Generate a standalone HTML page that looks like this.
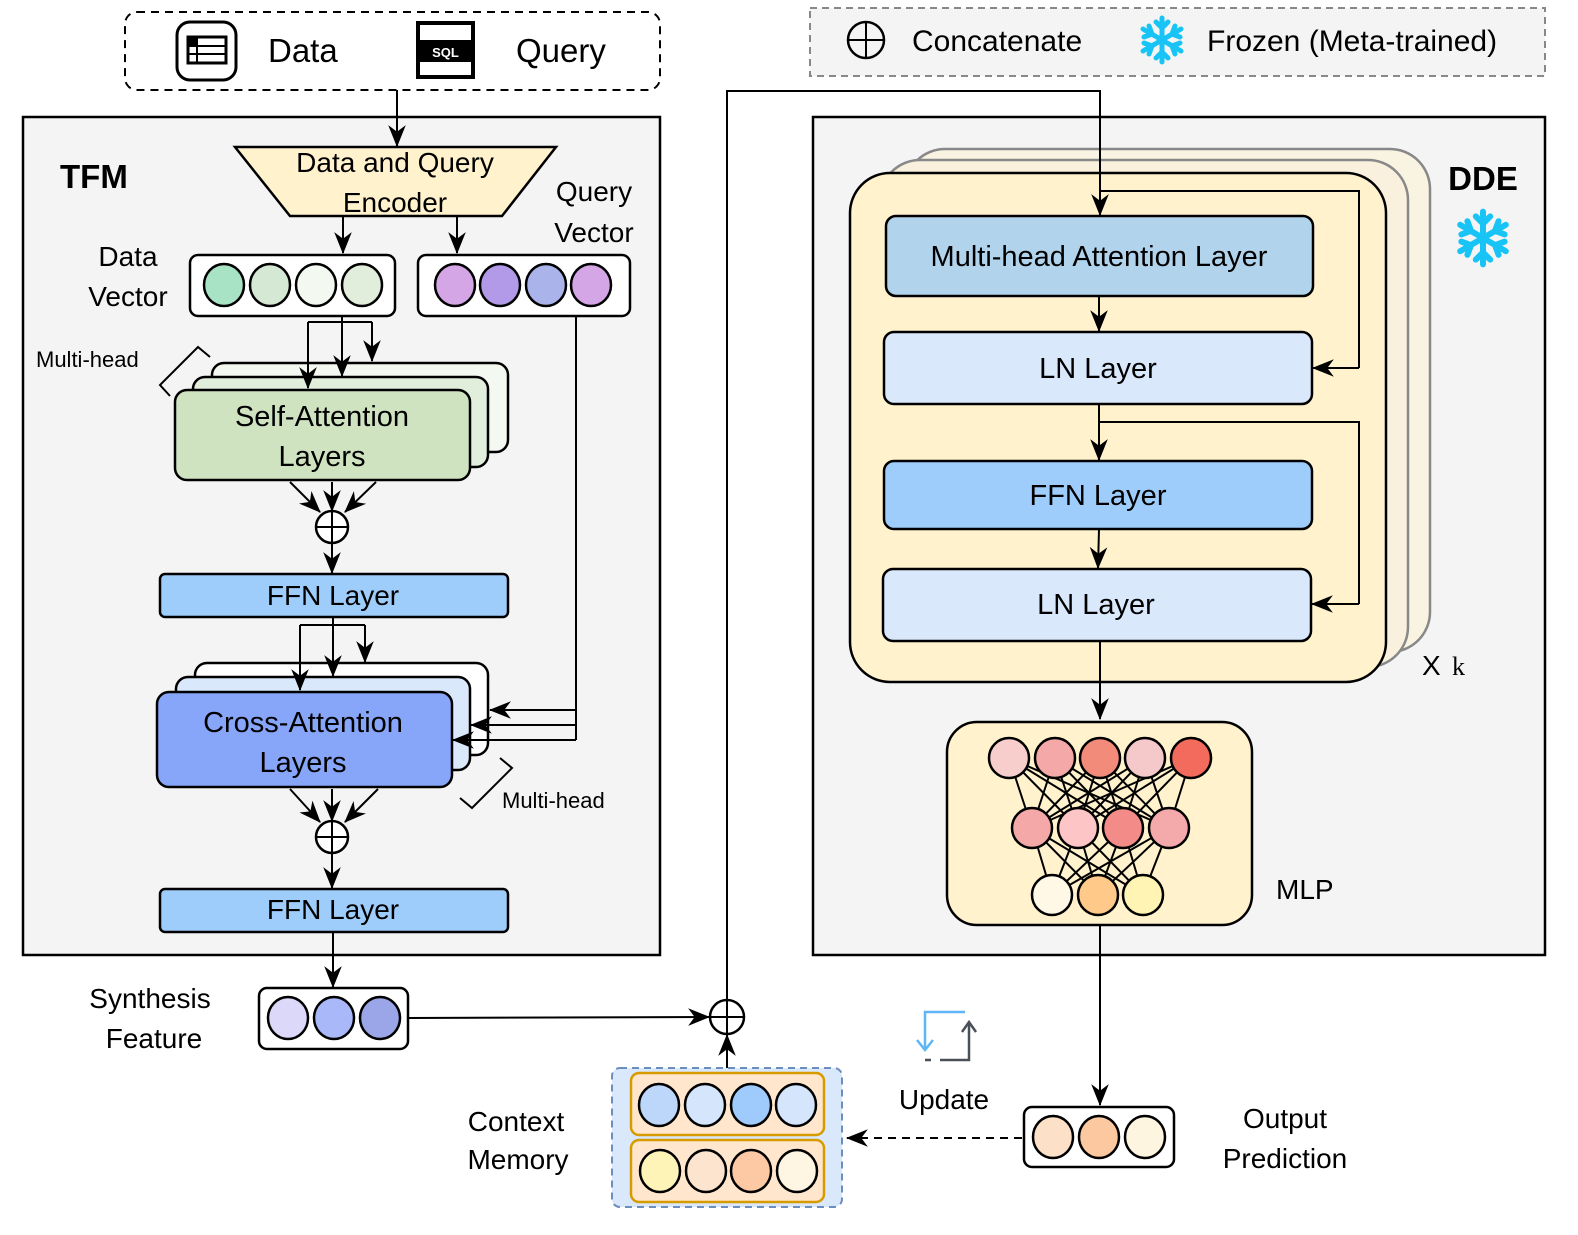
<!DOCTYPE html>
<html><head><meta charset="utf-8"><style>
html,body{margin:0;padding:0;background:#fff}
svg{display:block}
text{font-family:"Liberation Sans",sans-serif;fill:#000}
</style></head><body>
<svg width="1578" height="1235" viewBox="0 0 1578 1235" xmlns="http://www.w3.org/2000/svg">
<defs>
<marker id="b" viewBox="0 0 20 20" refX="19" refY="10" markerWidth="22" markerHeight="22" orient="auto" markerUnits="userSpaceOnUse"><path d="M0,2 L20,10 L0,18 L6,10 z" fill="#000"/></marker>
<g id="snow" stroke="#18c4f5" stroke-width="5" stroke-linecap="round" fill="none">
<path d="M0,-22V22M-19,-11L19,11M-19,11L19,-11"/>
<path d="M-6,-18L0,-12L6,-18M-6,18L0,12L6,18M-18,-3L-10,-6L-13,-14M18,3L10,6L13,14M-18,3L-10,6L-13,14M18,-3L10,-6L13,-14"/>
</g>
</defs>

<!-- top input box -->
<rect x="125" y="12" width="535" height="78" rx="12" fill="#fff" stroke="#000" stroke-width="2" stroke-dasharray="8,6"/>
<rect x="177" y="22" width="59" height="58" rx="13" fill="#fff" stroke="#000" stroke-width="3"/>
<rect x="188" y="37" width="38" height="26" fill="#fff" stroke="#000" stroke-width="3"/>
<rect x="188" y="37" width="9" height="8" fill="#000"/>
<path d="M188,46H226M188,54H226M197,37V63" stroke="#000" stroke-width="2"/>
<text x="268" y="62" font-size="33">Data</text>
<rect x="418" y="23" width="55" height="54" fill="#fff" stroke="#000" stroke-width="4"/>
<rect x="418" y="40" width="55" height="22" fill="#000"/>
<text x="445.5" y="57" font-size="13" text-anchor="middle" style="fill:#fff" font-weight="bold">SQL</text>
<text x="516" y="62" font-size="33">Query</text>

<!-- legend -->
<rect x="810" y="8" width="735" height="68" fill="#f4f4f4" stroke="#888" stroke-width="2" stroke-dasharray="7,5"/>
<circle cx="866" cy="40" r="18" fill="none" stroke="#000" stroke-width="2.5"/>
<path d="M848,40H884M866,22V58" stroke="#000" stroke-width="2"/>
<text x="912" y="51" font-size="30">Concatenate</text>
<use href="#snow" x="1162" y="40"/>
<text x="1207" y="51" font-size="30">Frozen (Meta-trained)</text>

<!-- TFM -->
<rect x="23" y="117" width="637" height="838" fill="#f4f4f4" stroke="#000" stroke-width="2.5"/>
<text x="60" y="188" font-size="33" font-weight="bold">TFM</text>
<line x1="397" y1="90" x2="397" y2="146" stroke="#000" stroke-width="2" marker-end="url(#b)"/>
<path d="M235,147H556L502,216H290Z" fill="#fff2cc" stroke="#000" stroke-width="2.5"/>
<text x="395" y="172" font-size="28" text-anchor="middle">Data and Query</text>
<text x="395" y="212" font-size="28" text-anchor="middle">Encoder</text>
<text x="594" y="201" font-size="28" text-anchor="middle">Query</text>
<text x="594" y="242" font-size="28" text-anchor="middle">Vector</text>
<text x="128" y="266" font-size="28" text-anchor="middle">Data</text>
<text x="128" y="306" font-size="28" text-anchor="middle">Vector</text>
<line x1="343" y1="216" x2="343" y2="253" stroke="#000" stroke-width="2" marker-end="url(#b)"/>
<line x1="457" y1="216" x2="457" y2="253" stroke="#000" stroke-width="2" marker-end="url(#b)"/>
<rect x="190" y="255" width="205" height="61" rx="8" fill="#fff" stroke="#000" stroke-width="2.5"/>
<g stroke="#000" stroke-width="2.5">
<ellipse cx="224" cy="285" rx="20" ry="21" fill="#a8e3c6"/>
<ellipse cx="270" cy="285" rx="20" ry="21" fill="#d5e8d4"/>
<ellipse cx="316" cy="285" rx="20" ry="21" fill="#f3f8f0"/>
<ellipse cx="362" cy="285" rx="20" ry="21" fill="#e1eedb"/>
</g>
<rect x="418" y="255" width="212" height="61" rx="8" fill="#fff" stroke="#000" stroke-width="2.5"/>
<g stroke="#000" stroke-width="2.5">
<ellipse cx="455" cy="285" rx="20" ry="21" fill="#d5a6e6"/>
<ellipse cx="500" cy="285" rx="20" ry="21" fill="#b39ae8"/>
<ellipse cx="546" cy="285" rx="20" ry="21" fill="#aab4ea"/>
<ellipse cx="591" cy="285" rx="20" ry="21" fill="#d5a6e6"/>
</g>

<!-- Self attention -->
<text x="36" y="367" font-size="22">Multi-head</text>
<path d="M210,357L198,347L160,385L170,396" fill="none" stroke="#000" stroke-width="2"/>
<rect x="212" y="363" width="296" height="89" rx="12" fill="#f3f8f0" stroke="#000" stroke-width="2.5"/>
<rect x="193" y="377" width="295" height="90" rx="12" fill="#e1eedb" stroke="#000" stroke-width="2.5"/>
<rect x="175" y="390" width="295" height="90" rx="12" fill="#cfe3c1" stroke="#000" stroke-width="2.5"/>
<text x="322" y="426" font-size="29" text-anchor="middle">Self-Attention</text>
<text x="322" y="466" font-size="29" text-anchor="middle">Layers</text>
<path d="M342,316V322M308,322H372" stroke="#000" stroke-width="2" fill="none"/>
<line x1="308" y1="322" x2="308" y2="388" stroke="#000" stroke-width="2" marker-end="url(#b)"/>
<line x1="342" y1="316" x2="342" y2="376" stroke="#000" stroke-width="2" marker-end="url(#b)"/>
<line x1="372" y1="322" x2="372" y2="361" stroke="#000" stroke-width="2" marker-end="url(#b)"/>
<line x1="290" y1="482" x2="320" y2="512" stroke="#000" stroke-width="2" marker-end="url(#b)"/>
<line x1="332" y1="482" x2="332" y2="511" stroke="#000" stroke-width="2" marker-end="url(#b)"/>
<line x1="376" y1="482" x2="345" y2="512" stroke="#000" stroke-width="2" marker-end="url(#b)"/>
<circle cx="332" cy="527" r="16" fill="#fff" stroke="#000" stroke-width="2.5"/>
<path d="M316,527H348M332,511V543" stroke="#000" stroke-width="2"/>
<line x1="332" y1="543" x2="332" y2="573" stroke="#000" stroke-width="2" marker-end="url(#b)"/>
<rect x="160" y="574" width="348" height="43" rx="5" fill="#9fcdfb" stroke="#000" stroke-width="2.5"/>
<text x="333" y="605" font-size="28" text-anchor="middle">FFN Layer</text>

<!-- Cross attention -->
<path d="M333,617V625M300,625H365" stroke="#000" stroke-width="2" fill="none"/>
<rect x="195" y="663" width="293" height="92" rx="12" fill="#fff" stroke="#000" stroke-width="2.5"/>
<rect x="176" y="677" width="294" height="93" rx="12" fill="#dae8fc" stroke="#000" stroke-width="2.5"/>
<rect x="157" y="692" width="295" height="95" rx="12" fill="#87a6f9" stroke="#000" stroke-width="2.5"/>
<text x="303" y="732" font-size="29" text-anchor="middle">Cross-Attention</text>
<text x="303" y="772" font-size="29" text-anchor="middle">Layers</text>
<line x1="300" y1="625" x2="300" y2="690" stroke="#000" stroke-width="2" marker-end="url(#b)"/>
<line x1="333" y1="617" x2="333" y2="676" stroke="#000" stroke-width="2" marker-end="url(#b)"/>
<line x1="365" y1="625" x2="365" y2="662" stroke="#000" stroke-width="2" marker-end="url(#b)"/>
<path d="M576,316V740" stroke="#000" stroke-width="2" fill="none"/>
<line x1="576" y1="710" x2="490" y2="710" stroke="#000" stroke-width="2" marker-end="url(#b)"/>
<line x1="576" y1="725" x2="471" y2="725" stroke="#000" stroke-width="2" marker-end="url(#b)"/>
<line x1="576" y1="740" x2="453" y2="740" stroke="#000" stroke-width="2" marker-end="url(#b)"/>
<path d="M500,758L512,768L472,808L460,798" fill="none" stroke="#000" stroke-width="2"/>
<text x="502" y="808" font-size="22">Multi-head</text>
<line x1="290" y1="789" x2="320" y2="822" stroke="#000" stroke-width="2" marker-end="url(#b)"/>
<line x1="332" y1="789" x2="332" y2="821" stroke="#000" stroke-width="2" marker-end="url(#b)"/>
<line x1="378" y1="789" x2="345" y2="822" stroke="#000" stroke-width="2" marker-end="url(#b)"/>
<circle cx="332" cy="837" r="16" fill="#fff" stroke="#000" stroke-width="2.5"/>
<path d="M316,837H348M332,821V853" stroke="#000" stroke-width="2"/>
<line x1="332" y1="853" x2="332" y2="888" stroke="#000" stroke-width="2" marker-end="url(#b)"/>
<rect x="160" y="889" width="348" height="43" rx="5" fill="#9fcdfb" stroke="#000" stroke-width="2.5"/>
<text x="333" y="919" font-size="28" text-anchor="middle">FFN Layer</text>
<line x1="333" y1="932" x2="333" y2="987" stroke="#000" stroke-width="2" marker-end="url(#b)"/>

<!-- Synthesis feature -->
<text x="150" y="1008" font-size="28" text-anchor="middle">Synthesis</text>
<text x="154" y="1048" font-size="28" text-anchor="middle">Feature</text>
<rect x="259" y="988" width="149" height="61" rx="8" fill="#fff" stroke="#000" stroke-width="2.5"/>
<g stroke="#000" stroke-width="2.5">
<ellipse cx="288" cy="1018" rx="20" ry="21" fill="#dcd8fa"/>
<ellipse cx="334" cy="1018" rx="20" ry="21" fill="#a8b8f8"/>
<ellipse cx="380" cy="1018" rx="20" ry="21" fill="#9aa6e8"/>
</g>
<line x1="408" y1="1018" x2="709" y2="1017" stroke="#000" stroke-width="2" marker-end="url(#b)"/>
<circle cx="727" cy="1017" r="17" fill="#fff" stroke="#000" stroke-width="2.5"/>
<path d="M710,1017H744M727,1000V1034" stroke="#000" stroke-width="2"/>

<!-- context memory -->
<line x1="727" y1="1068" x2="727" y2="1035" stroke="#000" stroke-width="2" marker-end="url(#b)"/>
<rect x="612" y="1068" width="230" height="139" rx="8" fill="#dae8fc" stroke="#6c8ebf" stroke-width="2" stroke-dasharray="7,5"/>
<rect x="631" y="1073" width="193" height="62" rx="8" fill="#ffe6cc" stroke="#d79b00" stroke-width="2.5"/>
<rect x="631" y="1140" width="193" height="62" rx="8" fill="#ffe6cc" stroke="#d79b00" stroke-width="2.5"/>
<g stroke="#000" stroke-width="2.5">
<ellipse cx="659" cy="1105" rx="20" ry="21" fill="#bdd7fb"/>
<ellipse cx="705" cy="1105" rx="20" ry="21" fill="#d4e5fc"/>
<ellipse cx="751" cy="1105" rx="20" ry="21" fill="#9ecbfb"/>
<ellipse cx="796" cy="1105" rx="20" ry="21" fill="#d4e5fc"/>
<ellipse cx="660" cy="1171" rx="20" ry="21" fill="#fff4b8"/>
<ellipse cx="706" cy="1171" rx="20" ry="21" fill="#fde4cf"/>
<ellipse cx="751" cy="1171" rx="20" ry="21" fill="#fcc9a4"/>
<ellipse cx="797" cy="1171" rx="20" ry="21" fill="#fef5e2"/>
</g>
<text x="516" y="1131" font-size="28" text-anchor="middle">Context</text>
<text x="518" y="1169" font-size="28" text-anchor="middle">Memory</text>

<!-- update -->
<path d="M965,1012H925V1048" stroke="#5fb6f7" stroke-width="2.5" fill="none"/>
<path d="M917,1040L925,1050L933,1040" stroke="#5fb6f7" stroke-width="2.5" fill="none"/>
<path d="M925,1060H931M940,1060H969V1024" stroke="#4a5058" stroke-width="2.5" fill="none"/>
<path d="M962,1032L969,1022L976,1032" stroke="#4a5058" stroke-width="2.5" fill="none"/>
<text x="944" y="1109" font-size="28" text-anchor="middle">Update</text>

<!-- DDE -->
<rect x="813" y="117" width="732" height="838" fill="#f4f4f4" stroke="#000" stroke-width="2.5"/>
<text x="1483" y="190" font-size="33" font-weight="bold" text-anchor="middle">DDE</text>
<g transform="translate(1483,238) scale(1.2)"><use href="#snow"/></g>
<rect x="905" y="149" width="525" height="503" rx="40" fill="#f9f3e2" stroke="#888" stroke-width="2.5"/>
<rect x="880" y="160" width="528" height="507" rx="40" fill="#f9f1dd" stroke="#888" stroke-width="2.5"/>
<rect x="850" y="173" width="536" height="509" rx="40" fill="#fff2cc" stroke="#000" stroke-width="2.5"/>
<text x="1422" y="675" font-size="28">X</text><text x="1452" y="675" font-size="26" style="font-family:'Liberation Serif',serif">k</text>

<!-- long connector (drawn above DDE) -->
<path d="M727,1000V91H1100V215" stroke="#000" stroke-width="2" fill="none" marker-end="url(#b)"/>

<path d="M1100,191H1359V368" stroke="#000" stroke-width="2" fill="none"/>
<line x1="1359" y1="368" x2="1313" y2="368" stroke="#000" stroke-width="2" marker-end="url(#b)"/>
<rect x="886" y="216" width="427" height="80" rx="10" fill="#b1d3ec" stroke="#000" stroke-width="2.5"/>
<text x="1099" y="266" font-size="29" text-anchor="middle">Multi-head Attention Layer</text>
<line x1="1099" y1="296" x2="1099" y2="331" stroke="#000" stroke-width="2" marker-end="url(#b)"/>
<rect x="884" y="332" width="428" height="72" rx="10" fill="#dae8fc" stroke="#000" stroke-width="2.5"/>
<text x="1098" y="378" font-size="29" text-anchor="middle">LN Layer</text>
<line x1="1099" y1="404" x2="1099" y2="460" stroke="#000" stroke-width="2" marker-end="url(#b)"/>
<path d="M1099,422H1359V604" stroke="#000" stroke-width="2" fill="none"/>
<line x1="1359" y1="604" x2="1312" y2="604" stroke="#000" stroke-width="2" marker-end="url(#b)"/>
<rect x="884" y="461" width="428" height="68" rx="10" fill="#9fcdfb" stroke="#000" stroke-width="2.5"/>
<text x="1098" y="505" font-size="29" text-anchor="middle">FFN Layer</text>
<line x1="1099" y1="529" x2="1098" y2="568" stroke="#000" stroke-width="2" marker-end="url(#b)"/>
<rect x="883" y="569" width="428" height="72" rx="10" fill="#dae8fc" stroke="#000" stroke-width="2.5"/>
<text x="1096" y="614" font-size="29" text-anchor="middle">LN Layer</text>
<line x1="1100" y1="641" x2="1100" y2="719" stroke="#000" stroke-width="2" marker-end="url(#b)"/>

<!-- MLP -->
<rect x="947" y="722" width="305" height="203" rx="30" fill="#fff2cc" stroke="#000" stroke-width="2.5"/>
<g stroke="#000" stroke-width="2">
<path d="M1009,758L1032,828M1009,758L1078,828M1009,758L1123,828M1009,758L1169,828
M1055,758L1032,828M1055,758L1078,828M1055,758L1123,828M1055,758L1169,828
M1100,758L1032,828M1100,758L1078,828M1100,758L1123,828M1100,758L1169,828
M1145,758L1032,828M1145,758L1078,828M1145,758L1123,828M1145,758L1169,828
M1191,758L1032,828M1191,758L1078,828M1191,758L1123,828M1191,758L1169,828
M1032,828L1052,895M1032,828L1098,895M1032,828L1143,895
M1078,828L1052,895M1078,828L1098,895M1078,828L1143,895
M1123,828L1052,895M1123,828L1098,895M1123,828L1143,895
M1169,828L1052,895M1169,828L1098,895M1169,828L1143,895"/>
</g>
<g stroke="#000" stroke-width="2.5">
<ellipse cx="1009" cy="758" rx="20" ry="20" fill="#f8cecc"/>
<ellipse cx="1055" cy="758" rx="20" ry="20" fill="#f4a9a8"/>
<ellipse cx="1100" cy="758" rx="20" ry="20" fill="#f28b7a"/>
<ellipse cx="1145" cy="758" rx="20" ry="20" fill="#f5c9c9"/>
<ellipse cx="1191" cy="758" rx="20" ry="20" fill="#f26b5c"/>
<ellipse cx="1032" cy="828" rx="20" ry="20" fill="#f4a9a8"/>
<ellipse cx="1078" cy="828" rx="20" ry="20" fill="#fdc5c5"/>
<ellipse cx="1123" cy="828" rx="20" ry="20" fill="#f38b88"/>
<ellipse cx="1169" cy="828" rx="20" ry="20" fill="#f4a9ab"/>
<ellipse cx="1052" cy="895" rx="20" ry="20" fill="#fff8e6"/>
<ellipse cx="1098" cy="895" rx="20" ry="20" fill="#ffc98a"/>
<ellipse cx="1143" cy="895" rx="20" ry="20" fill="#fff4b3"/>
</g>
<text x="1276" y="899" font-size="28">MLP</text>

<!-- output -->
<line x1="1100" y1="925" x2="1100" y2="1105" stroke="#000" stroke-width="2" marker-end="url(#b)"/>
<rect x="1024" y="1107" width="150" height="60" rx="8" fill="#fff" stroke="#000" stroke-width="2.5"/>
<g stroke="#000" stroke-width="2.5">
<ellipse cx="1053" cy="1137" rx="20" ry="21" fill="#fde0c8"/>
<ellipse cx="1099" cy="1137" rx="20" ry="21" fill="#fcc8a0"/>
<ellipse cx="1145" cy="1137" rx="20" ry="21" fill="#fef5e0"/>
</g>
<text x="1285" y="1128" font-size="28" text-anchor="middle">Output</text>
<text x="1285" y="1168" font-size="28" text-anchor="middle">Prediction</text>
<line x1="1022" y1="1138" x2="847" y2="1138" stroke="#000" stroke-width="2" stroke-dasharray="8,6" marker-end="url(#b)"/>
</svg>
</body></html>
